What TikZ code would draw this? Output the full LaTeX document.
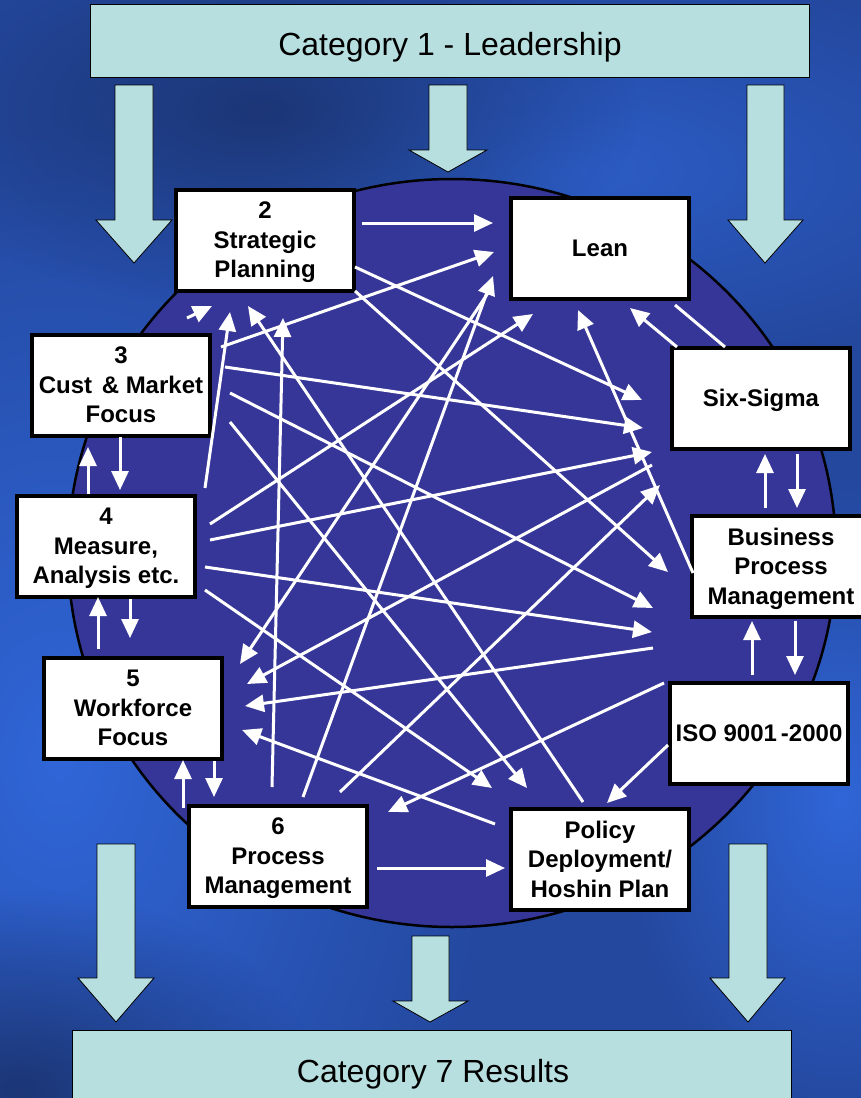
\documentclass[tikz,border=0pt]{standalone}
\usepackage{fontspec}
\setmainfont{Liberation Sans}
\usetikzlibrary{arrows.meta,calc,fadings}

\definecolor{cyanbox}{RGB}{184,223,224}
\definecolor{disc}{RGB}{54,54,152}
\definecolor{bgbase}{RGB}{36,72,158}
\definecolor{bglight}{RGB}{48,102,216}
\definecolor{bgdark}{RGB}{28,54,118}

\tikzfading[name=softspot, inner color=transparent!0, outer color=transparent!100]

\tikzset{
  wbox/.style={draw=black, fill=white, line width=4pt, minimum width=178pt, minimum height=101pt, inner sep=0pt, text depth=0pt, align=center, font=\fontsize{24}{29.5}\selectfont\bfseries},
  catbox/.style={draw=black, fill=cyanbox, line width=0.8pt},
  cattext/.style={font=\fontsize{32}{38}\selectfont, anchor=base, inner sep=0pt},
  blk/.style={draw=black, fill=cyanbox, line width=0.8pt},
  wa/.style={draw=white, line width=3pt, -{Triangle[length=19pt,width=17pt]}},
  wl/.style={draw=white, line width=3pt},
}

\begin{document}
\begin{tikzpicture}[x=1pt,y=-1pt]
\useasboundingbox (0,0) rectangle (861,1098);
\clip (0,0) rectangle (861,1098);
% background
\fill[bgbase] (0,0) rectangle (861,1098);
\fill[bglight, path fading=softspot] (60,760) ellipse [x radius=440pt, y radius=640pt];
\fill[bglight, path fading=softspot] (840,800) ellipse [x radius=220pt, y radius=320pt];
\fill[bglight, opacity=0.7, path fading=softspot] (560,170) ellipse [x radius=520pt, y radius=200pt];
\fill[bgdark, path fading=softspot] (260,110) ellipse [x radius=380pt, y radius=200pt];
\fill[bgdark, path fading=softspot] (20,1090) ellipse [x radius=300pt, y radius=200pt];

\node[catbox, minimum width=719pt, minimum height=73pt] (lead) at (450,41) {};
\node[cattext] (leadtxt) at (450,55) {Category 1 - Leadership};
\node[catbox, minimum width=719pt, minimum height=90pt] (res) at (432,1075) {};
\node[cattext] (restxt) at (433,1082) {Category 7 Results};

\draw[blk] (115,85) -- (153,85) -- (153,220) -- (172,220) -- (134,263) -- (96,220) -- (115,220) -- cycle;
\draw[blk] (429,85) -- (467,85) -- (467,150) -- (487,150) -- (448,172) -- (409,150) -- (429,150) -- cycle;
\draw[blk] (747,85) -- (784,85) -- (784,220) -- (803,220) -- (765,263) -- (728,220) -- (747,220) -- cycle;
\draw[blk] (97,844) -- (135,844) -- (135,978) -- (154,978) -- (116,1022) -- (78,978) -- (97,978) -- cycle;
\draw[blk] (412,936) -- (449,936) -- (449,1001) -- (468,1001) -- (430,1022) -- (393,1001) -- (412,1001) -- cycle;
\draw[blk] (729,844) -- (767,844) -- (767,978) -- (785,978) -- (748,1022) -- (710,978) -- (729,978) -- cycle;

\draw[line width=2.5pt, fill=disc] (452,553) ellipse [x radius=384pt, y radius=374pt];

\node[wbox] (sp) at (265,240) {2\\Strategic\\Planning};
\node[wbox] (lean) at (600,248) {Lean};
\node[wbox] (cmf) at (121,385) {3\\Cust\hspace{0.4em}\& Market\\Focus};
\node[wbox] (six) at (761,398) {Six-Sigma};
\node[wbox] (mea) at (106,546) {4\\Measure,\\Analysis etc.};
\node[wbox] (bpm) at (781,566) {Business\\Process\\Management};
\node[wbox] (wf) at (133,708) {5\\Workforce\\Focus};
\node[wbox] (iso) at (759,733) {ISO 9001\,-2000};
\node[wbox] (pm) at (278,856) {6\\Process\\Management};
\node[wbox] (pol) at (600,859) {Policy\\Deployment/\\Hoshin Plan};

\draw[wa] ($(sp.center)+(97,-17)$) -- ($(lean.center)+(-107,-25)$);
\draw[wa] ($(sp.center)+(90,27)$) -- ($(six.center)+(-119,2)$);
\draw[wa] ($(sp.center)+(90,51)$) -- ($(bpm.center)+(-113,6)$);
\draw[wa] ($(cmf.center)+(100,-38)$) -- ($(lean.center)+(-106,4)$);
\draw[wa] ($(cmf.center)+(104,-18)$) -- ($(six.center)+(-118,30)$);
\draw[wa] ($(cmf.center)+(109,8)$) -- ($(bpm.center)+(-128,42)$);
\draw[wa] ($(cmf.center)+(109,37)$) -- ($(pol.center)+(-73,-71)$);
\draw[wa] ($(mea.center)+(99,-58)$) -- ($(sp.center)+(-35,72)$);
\draw[wa] ($(mea.center)+(104,-22)$) -- ($(lean.center)+(-67,66)$);
\draw[wa] ($(mea.center)+(104,-6)$) -- ($(six.center)+(-109,54)$);
\draw[wa] ($(mea.center)+(99,21)$) -- ($(bpm.center)+(-129,66)$);
\draw[wa] ($(mea.center)+(99,44)$) -- ($(pol.center)+(-108,-71)$);
\draw[wa] ($(pm.center)+(-6,-69)$) -- ($(sp.center)+(18,78)$);
\draw[wa] ($(pm.center)+(25,-59)$) -- ($(lean.center)+(-107,28)$);
\draw[wa] ($(pm.center)+(62,-64)$) -- ($(six.center)+(-101,87)$);
\draw[wa] ($(pm.center)+(99,12)$) -- ($(pol.center)+(-95,9)$);
\draw[wa] ($(lean.center)+(-110,42)$) -- ($(wf.center)+(107,-44)$);
\draw[wl] ($(lean.center)+(75,57)$) -- ($(six.center)+(-36,-51)$);
\draw[wa] ($(six.center)+(-84,-51)$) -- ($(lean.center)+(30,60)$);
\draw[wa] ($(six.center)+(-109,67)$) -- ($(wf.center)+(114,-24)$);
\draw[wa] ($(bpm.center)+(-88,7)$) -- ($(lean.center)+(-22,62)$);
\draw[wa] ($(bpm.center)+(-128,82)$) -- ($(wf.center)+(112,-2)$);
\draw[wa] ($(iso.center)+(-95,-50)$) -- ($(pm.center)+(110,-44)$);
\draw[wa] ($(iso.center)+(-91,12)$) -- ($(pol.center)+(7,-56)$);
\draw[wa] ($(pol.center)+(-17,-57)$) -- ($(sp.center)+(-17,66)$);
\draw[wa] ($(pol.center)+(-105,-35)$) -- ($(wf.center)+(109,22)$);
\draw[wa] ($(sp.center)+(-78,78)$) -- ($(sp.center)+(-53,66)$);

\draw[wa] ($(mea.center)+(-18,-52)$) -- ($(cmf.center)+(-33,62)$);
\draw[wa] ($(cmf.center)+(-1,52)$) -- ($(mea.center)+(14,-56)$);
\draw[wa] ($(wf.center)+(-35,-59)$) -- ($(mea.center)+(-8,51)$);
\draw[wa] ($(mea.center)+(24,53)$) -- ($(wf.center)+(-3,-70)$);
\draw[wa] ($(pm.center)+(-95,-48)$) -- ($(wf.center)+(50,52)$);
\draw[wa] ($(wf.center)+(81,53)$) -- ($(pm.center)+(-64,-59)$);
\draw[wa] ($(bpm.center)+(-16,-58)$) -- ($(six.center)+(4,56)$);
\draw[wa] ($(six.center)+(36,56)$) -- ($(bpm.center)+(16,-58)$);
\draw[wa] ($(iso.center)+(-7,-58)$) -- ($(bpm.center)+(-29,55)$);
\draw[wa] ($(bpm.center)+(14,55)$) -- ($(iso.center)+(36,-58)$);
\end{tikzpicture}
\end{document}
